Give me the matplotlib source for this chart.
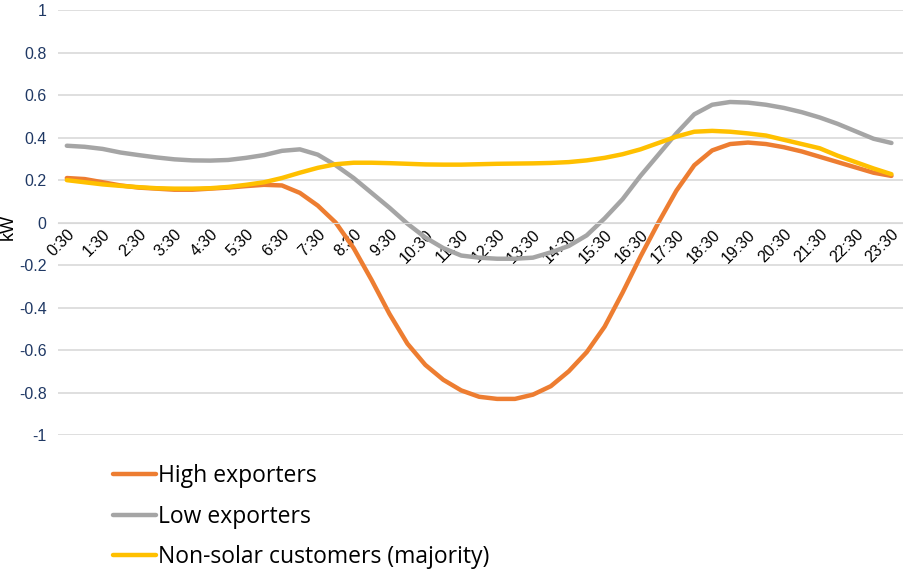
import numpy as np
import matplotlib.pyplot as plt

# half-hourly readings, 0:30 .. 23:30
times = [f"{(k + 1) // 2}:{'30' if k % 2 == 0 else '00'}" for k in range(47)]
high = [0.21, 0.205, 0.19, 0.175, 0.165, 0.16, 0.155, 0.155, 0.16, 0.165, 0.172, 0.178,
        0.175, 0.14, 0.08, 0.0, -0.12, -0.27, -0.43, -0.57, -0.67, -0.74, -0.79, -0.82,
        -0.83, -0.83, -0.81, -0.77, -0.70, -0.61, -0.49, -0.33, -0.16, 0.0, 0.15, 0.27,
        0.34, 0.37, 0.377, 0.37, 0.355, 0.335, 0.31, 0.285, 0.26, 0.235, 0.22]
low = [0.362, 0.357, 0.347, 0.33, 0.318, 0.307, 0.298, 0.293, 0.292, 0.295, 0.305, 0.318,
       0.338, 0.345, 0.32, 0.27, 0.21, 0.14, 0.07, -0.005, -0.07, -0.12, -0.155, -0.165,
       -0.17, -0.17, -0.165, -0.14, -0.11, -0.06, 0.02, 0.11, 0.22, 0.32, 0.42, 0.51,
       0.555, 0.568, 0.565, 0.555, 0.54, 0.52, 0.495, 0.465, 0.43, 0.395, 0.375]
nonsolar = [0.2, 0.19, 0.18, 0.173, 0.167, 0.162, 0.16, 0.16, 0.162, 0.168, 0.178, 0.19,
            0.21, 0.235, 0.258, 0.275, 0.282, 0.282, 0.28, 0.277, 0.274, 0.273, 0.273, 0.275,
            0.277, 0.278, 0.279, 0.281, 0.285, 0.293, 0.305, 0.322, 0.345, 0.375, 0.405, 0.428,
            0.432, 0.428, 0.42, 0.41, 0.39, 0.37, 0.35, 0.315, 0.285, 0.255, 0.228]
names = ["High exporters", "Low exporters", "Non-solar customers (majority)"]
colors = ["#ED7D31", "#A5A5A5", "#FFC000"]

plt.rcParams['font.family'] = ['Liberation Sans', 'DejaVu Sans']

fig = plt.figure(figsize=(9.04, 5.69), dpi=100)
ax = fig.add_axes([0.064, 0.2355, 0.936, 0.7465])

# spine position first: it resets the ticks
ax.spines['bottom'].set_position(('data', 0))
ax.spines['bottom'].set_color("#D9D9D9")
for s in ['top', 'right', 'left']:
    ax.spines[s].set_visible(False)

x = np.arange(len(times))
for vals, name, c in zip([high, low, nonsolar], names, colors):
    ax.plot(x, vals, color=c, lw=3.2, label=name, solid_capstyle='round')

ax.set_xlim(-0.5, len(times) - 0.3)
ax.set_ylim(-1, 1)
ax.set_yticks(np.arange(-1, 1.01, 0.2))
ax.set_yticklabels(["-1", "-0.8", "-0.6", "-0.4", "-0.2", "0", "0.2", "0.4", "0.6", "0.8", "1"],
                   color="#1F3864", fontsize=11.5)
ax.yaxis.grid(True, color="#D9D9D9", lw=1.2)
ax.set_axisbelow(True)

ax.set_xticks(x[::2])
ax.set_xticklabels(times[::2], rotation=45, ha='right', va='top', rotation_mode='anchor',
                   fontsize=11.5)
ax.tick_params(length=0)
ax.tick_params(axis='y', pad=8)
ax.tick_params(axis='x', pad=3)

ax.set_ylabel("kW", fontsize=13)
ax.yaxis.set_label_coords(-0.048, 0.49)

fig.legend(loc='upper left', bbox_to_anchor=(0.115, 0.2), frameon=False,
           prop={'family': 'Open Sans', 'size': 16.5},
           handlelength=1.85, handletextpad=0.1, labelspacing=0.72, borderaxespad=0)

fig.savefig("out.png", dpi=100)
